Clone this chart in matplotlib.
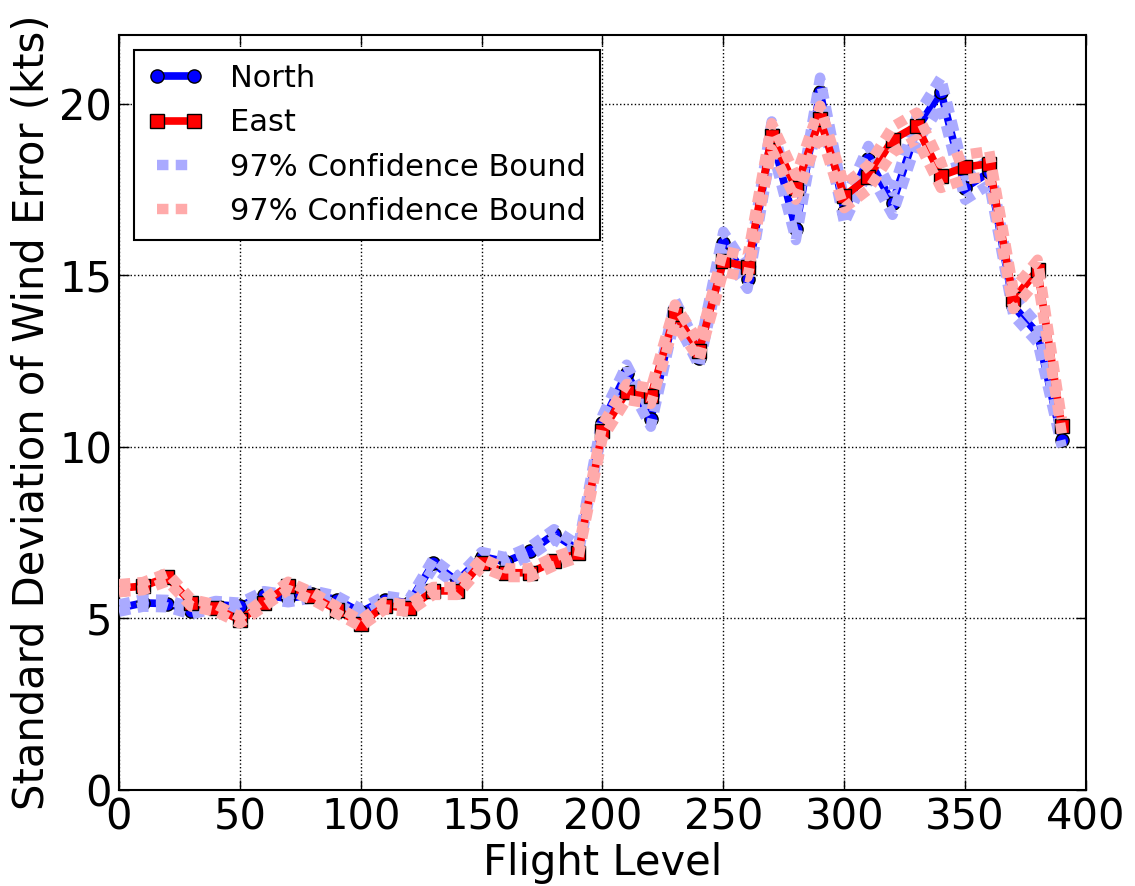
import numpy as np
import matplotlib
matplotlib.use('Agg')
import matplotlib.pyplot as plt

# flight levels and standard deviations of wind error (kts)
flight_levels = np.arange(0, 400, 10)
north = [5.30, 5.45, 5.43, 5.22, 5.40, 5.35, 5.68, 5.58, 5.70, 5.55, 5.18,
         5.55, 5.45, 6.60, 6.08, 6.80, 6.65, 6.95, 7.45, 7.00,
         10.70, 12.15, 10.80, 14.00, 12.60, 15.95, 14.90, 19.10, 16.35, 20.35,
         16.85, 18.40, 17.10, 19.25, 20.35, 17.55, 18.00, 14.10, 13.30, 10.20]
east = [5.88, 5.94, 6.20, 5.45, 5.30, 4.95, 5.45, 5.95, 5.65, 5.25, 4.85,
        5.37, 5.30, 5.80, 5.80, 6.62, 6.33, 6.33, 6.66, 6.90,
        10.45, 11.60, 11.48, 13.87, 12.80, 15.40, 15.25, 19.05, 17.55, 19.55,
        17.30, 17.85, 18.95, 19.35, 17.90, 18.15, 18.25, 14.30, 15.15, 10.60]
# relative half width of the 97% confidence interval on the std estimate
conf_halfwidth = 0.02

north = np.array(north)
east = np.array(east)

plt.rcParams['font.family'] = ['DejaVu Sans']
plt.rcParams['xtick.direction'] = 'in'
plt.rcParams['ytick.direction'] = 'in'

fig = plt.figure(figsize=(11.35, 8.86), dpi=100)
ax = fig.add_axes([0.1048, 0.1084, 0.8520, 0.8521])

bound_style = dict(lw=7.5, dashes=(1.1, 0.7), solid_capstyle='butt')

h_n, = ax.plot(flight_levels, north, '-o', color='blue', lw=5.5, ms=9.5,
               mec='black', mew=1, label='North', zorder=2)
for sign in [1, -1]:
    h_nb, = ax.plot(flight_levels, north * (1 + sign * conf_halfwidth), '--',
                    color='#aaaaff', label='97% Confidence Bound', zorder=3,
                    **bound_style)
h_e, = ax.plot(flight_levels, east, '-s', color='red', lw=5.5, ms=9.5,
               mec='black', mew=1, label='East', zorder=4)
for sign in [1, -1]:
    h_eb, = ax.plot(flight_levels, east * (1 + sign * conf_halfwidth), '--',
                    color='#ffaaaa', label='97% Confidence Bound', zorder=5,
                    **bound_style)

ax.set_xlim(0, 400)
ax.set_ylim(0, 22)
ax.set_xticks(np.arange(0, 401, 50))
ax.set_yticks([0, 5, 10, 15, 20])
ax.tick_params(labelsize=30, length=7, width=1, top=True, right=True, pad=5)
ax.grid(True, color='black', linestyle=':', linewidth=1)
for sp in ax.spines.values():
    sp.set_linewidth(1.5)

ax.set_xlabel('Flight Level', fontsize=30, labelpad=2)
ax.set_ylabel('Standard Deviation of Wind Error (kts)', fontsize=30, labelpad=4)

leg = ax.legend([h_n, h_e, h_nb, h_eb],
                ['North', 'East', '97% Confidence Bound', '97% Confidence Bound'],
                loc='upper left', fontsize=22, fancybox=False, framealpha=1,
                numpoints=2, handlelength=1.8, handletextpad=0.9,
                borderaxespad=0.5, borderpad=0.45, labelspacing=0.5)
leg.get_frame().set_edgecolor('black')
leg.get_frame().set_linewidth(1.5)
leg.set_zorder(10)

fig.savefig('out.png', dpi=100)
